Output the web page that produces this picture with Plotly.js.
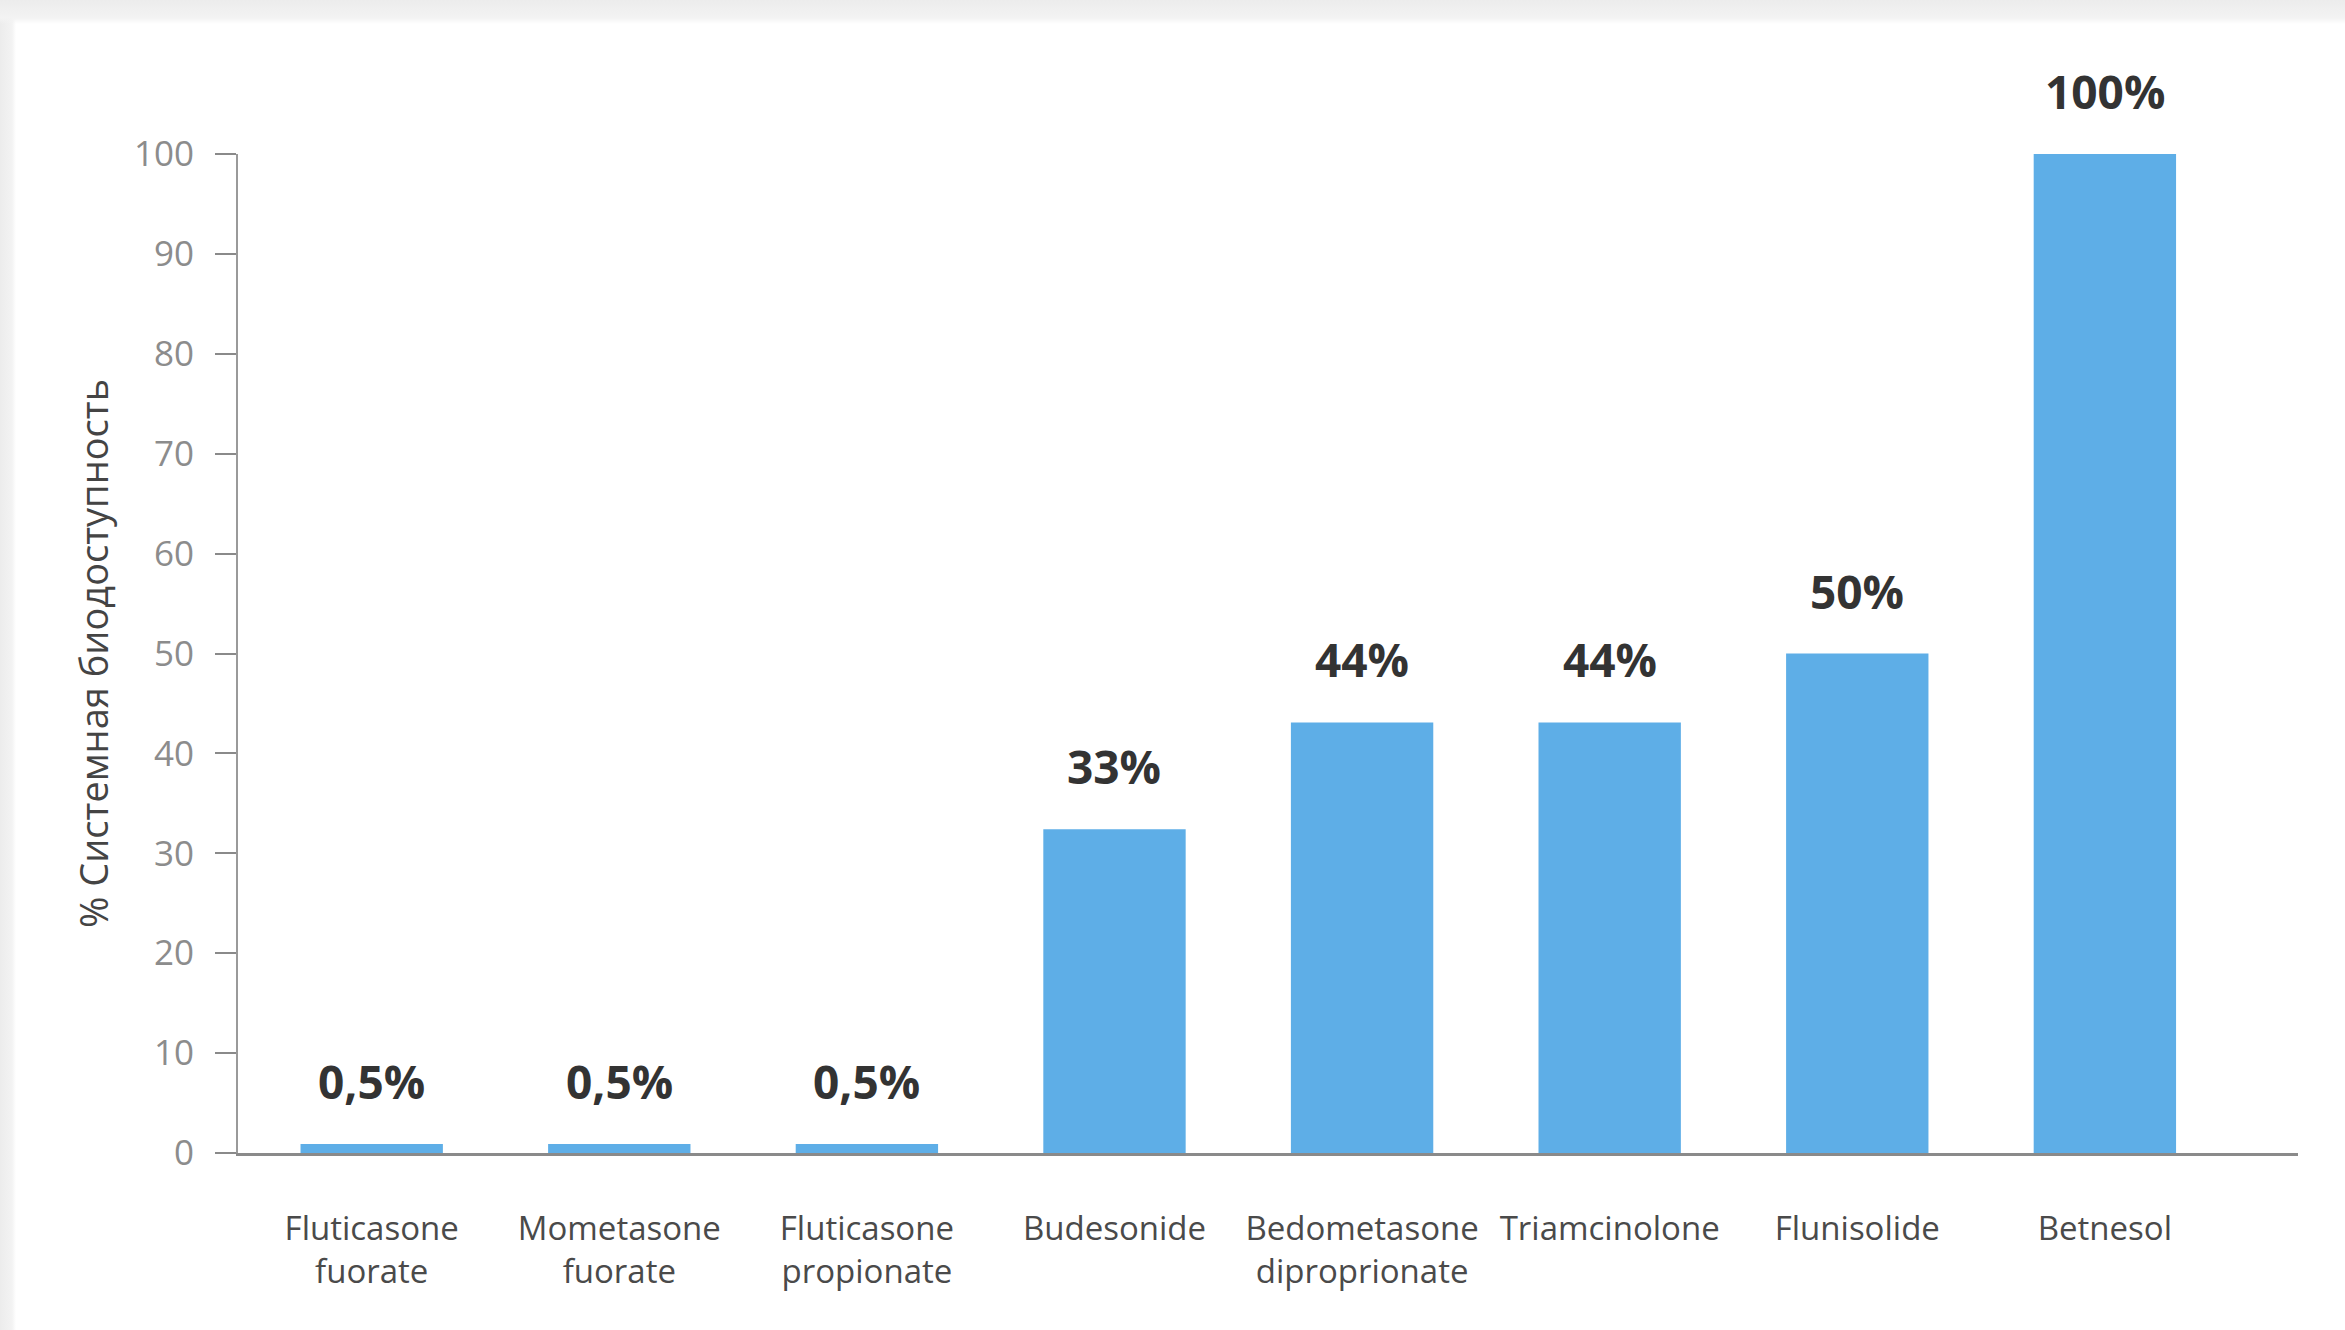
<!DOCTYPE html>
<html>
<head>
<meta charset="utf-8">
<script src="https://cdn.plot.ly/plotly-3.0.1.min.js"></script>
<style>
  html, body { margin: 0; padding: 0; }
  body {
    width: 2345px; height: 1330px; overflow: hidden;
    background:
      linear-gradient(to bottom, #ececec 0px, #f3f3f3 18px, rgba(255,255,255,0) 24px),
      linear-gradient(to right, #ececec 0px, #f3f3f3 12px, rgba(255,255,255,0) 16px),
      #ffffff;
  }
  #chart { width: 2345px; height: 1330px; }
</style>
</head>
<body>
<div id="chart"></div>
<script>
// ---- data ----
const categories = [
  "Fluticasone<br>fuorate",
  "Mometasone<br>fuorate",
  "Fluticasone<br>propionate",
  "Budesonide",
  "Bedometasone<br>diproprionate",
  "Triamcinolone",
  "Flunisolide",
  "Betnesol"
];
const values = [0.9, 0.9, 0.9, 32.4, 43.1, 43.1, 50, 100];
const valueLabels = ["0,5%", "0,5%", "0,5%", "33%", "44%", "44%", "50%", "100%"];
const yTickValues = [0, 10, 20, 30, 40, 50, 60, 70, 80, 90, 100];
const yTitle = "% Системная биодоступность";

// ---- chart ----
const trace = {
  type: "bar",
  x: categories,
  y: values,
  width: 0.575,
  marker: { color: "#5eaee7", line: { width: 0 } },
  hoverinfo: "skip",
  cliponaxis: false
};

const annotations = categories.map((c, i) => ({
  x: c, y: values[i], xref: "x", yref: "y",
  text: valueLabels[i],
  showarrow: false,
  yanchor: "middle",
  yshift: 63,
  font: { family: "Open Sans, sans-serif", size: 46, color: "#333333", weight: 700 }
}));

const layout = {
  width: 2345, height: 1330,
  paper_bgcolor: "rgba(0,0,0,0)",
  plot_bgcolor: "rgba(0,0,0,0)",
  margin: { l: 238, r: 47, t: 154, b: 177 },
  showlegend: false,
  xaxis: {
    type: "category",
    range: [-0.54, 7.78],
    showline: true, linecolor: "#8a8a8a", linewidth: 3,
    ticks: "", showgrid: false, zeroline: false,
    ticklabelstandoff: 44,
    tickfont: { family: "Open Sans, sans-serif", size: 33, color: "#4a4a4a" },
    fixedrange: true
  },
  yaxis: {
    range: [0, 100],
    tickvals: yTickValues,
    showline: true, linecolor: "#9a9a9a", linewidth: 2,
    ticks: "outside", ticklen: 21, tickwidth: 2, tickcolor: "#8a8a8a",
    showgrid: false, zeroline: false,
    ticklabelstandoff: 14,
    tickfont: { family: "Open Sans, sans-serif", size: 35, color: "#8c8c8c" },
    title: { text: yTitle, standoff: 14, font: { family: "Open Sans, sans-serif", size: 38, color: "#444444" } },
    fixedrange: true
  },
  annotations: annotations
};

Plotly.newPlot("chart", [trace], layout, { displayModeBar: false, staticPlot: true });
</script>
</body>
</html>
